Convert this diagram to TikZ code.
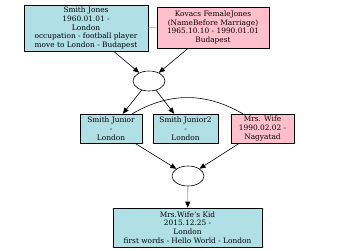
\documentclass[tikz,border=0pt]{standalone}
\usepackage{fontspec}
\setmainfont{DejaVu Serif}
\usepackage{tikz}
\usetikzlibrary{arrows.meta, shapes.geometric}
\usepackage{xcolor}

\definecolor{boyblue}{RGB}{176,224,230}
\definecolor{girlpink}{RGB}{255,192,203}

\tikzset{
  person/.style={draw, line width=0.6pt, align=center, inner sep=1pt,
    font=\fontsize{7.4}{8.8}\selectfont},
  male/.style={person, fill=boyblue},
  female/.style={person, fill=girlpink},
  union/.style={draw, ellipse, line width=0.6pt, minimum width=32pt,
    minimum height=20pt, inner sep=0pt},
  link/.style={line width=0.6pt, -{Triangle[length=6pt,width=5pt]}},
}

\begin{document}
\begin{tikzpicture}[x=1pt, y=-1pt]
\useasboundingbox (0,0) rectangle (350,250);

% parents
\node[male, minimum width=124pt, minimum height=46pt] (jones) at (86,28)
  {Smith Jones\\1960.01.01 -\\London\\occupation - football player\\move to London - Budapest};
\node[female, minimum width=112pt, minimum height=41pt] (kovacs) at (213,27.5)
  {Kovacs FemaleJones\\(NameBefore Marriage)\\1965.10.10 - 1990.01.01\\Budapest};
\draw[gray!70, line width=0.8pt] (jones) -- (kovacs);
\node[union] (u1) at (149,81) {};

% children and the second couple
\node[male, minimum width=62pt, minimum height=29pt] (junior) at (111,128.5)
  {Smith Junior\\-\\London};
\node[male, minimum width=65pt, minimum height=29pt] (junior2) at (185.5,128.5)
  {Smith Junior2\\-\\London};
\node[female, minimum width=63pt, minimum height=29pt] (wife) at (262.5,128.5)
  {Mrs. Wife\\1990.02.02 -\\Nagyatad};
\node[union] (u2) at (188,176) {};

\node[male, minimum width=149pt, minimum height=39pt] (kid) at (187.5,227.5)
  {Mrs.Wife's Kid\\2015.12.25 -\\London\\first words - Hello World - London};

\foreach \a/\b in {jones/u1, kovacs/u1, u1/junior, u1/junior2, junior/u2, wife/u2}
  \draw[link] (\a) -- (\b);

\draw[line width=0.6pt] ([xshift=-10pt]junior.north east) to[bend left=30] ([xshift=12pt]wife.north west);
\draw[gray!70, line width=0.8pt, -{Triangle[black,length=6pt,width=5pt]}] (u2) -- (kid);
\end{tikzpicture}
\end{document}
